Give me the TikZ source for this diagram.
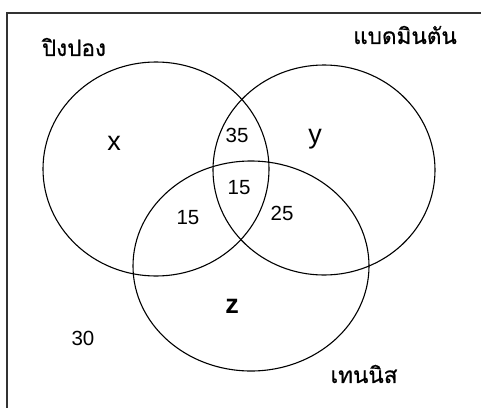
\documentclass[tikz,border=0pt]{standalone}
\usepackage{fontspec}
\setmainfont{Liberation Sans}
\newfontfamily\thaifont[Script=Thai,FakeBold=0.6]{Loma}
\begin{document}
\begin{tikzpicture}[x=1pt,y=-1pt,
  venn/.style={draw=black, line width=1.1pt},
  frameline/.style={draw=black!80, line width=2pt},
  num/.style={font=\fontsize{20.5}{20.5}\selectfont, inner sep=0pt},
  letter/.style={font=\fontsize{27}{27}\selectfont, inner sep=0pt},
  thai/.style={font=\thaifont\fontsize{22.5}{22.5}\selectfont, inner sep=0pt}]
\useasboundingbox (0,0) rectangle (481,407);
\coordinate (fbl) at (7,420);
\coordinate (ftl) at (7,13);
\coordinate (ftr) at (495,13);
\draw[frameline] (fbl) -- (ftl) -- (ftr);
\draw[venn] (156,169) ellipse [x radius=113, y radius=107];
\draw[venn] (324,170) ellipse [x radius=111, y radius=105];
\draw[venn] (251,266) ellipse [x radius=118, y radius=105];
\node[thai] (ping) at (74,47) {ปิงปอง};
\node[thai] (badm) at (405,35) {แบดมินตัน};
\node[thai] (tenn) at (364,374) {เทนนิส};
\node[letter] (x) at (114,143) {x};
\node[letter] (y) at (315,139) {y};
\node[letter, font=\fontsize{27}{27}\selectfont\bfseries] (z) at (232,306) {z};
\node[num] (n35) at (237,135) {35};
\node[num] (n15c) at (239,188) {15};
\node[num] (n15l) at (188,218) {15};
\node[num] (n25) at (282,213) {25};
\node[num] (n30) at (83,338) {30};
\end{tikzpicture}
\end{document}
